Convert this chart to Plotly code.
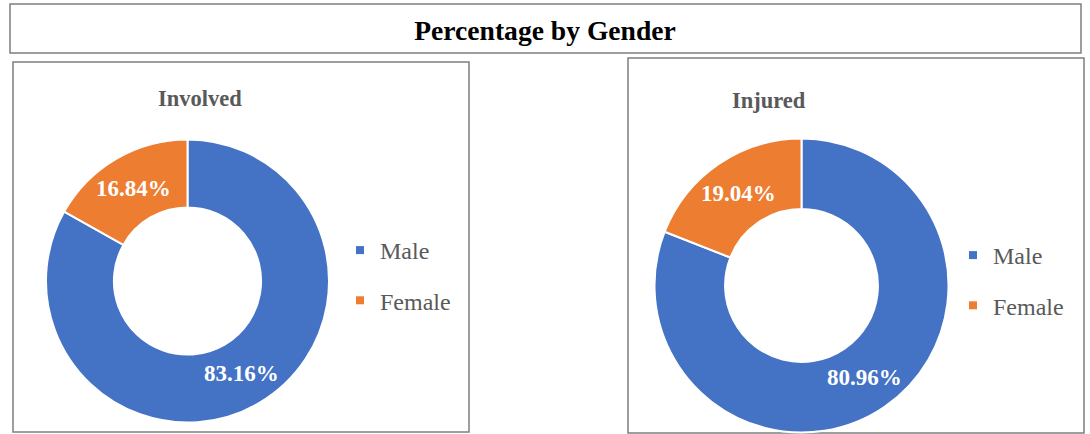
import math
import plotly.graph_objects as go

W, H = 1090, 434

categories = ["Male", "Female"]
involved_pct = [83.16, 16.84]
injured_pct = [80.96, 19.04]
colors = ["#4472C4", "#ED7D31"]
main_title = "Percentage by Gender"
panel_titles = ["Involved", "Injured"]

SERIF = "Liberation Serif, Times New Roman, serif"
GRAY = "#595959"
HOLE = 0.52


def px_x(v):
    return v / W


def px_y(v):
    return 1 - v / H


# donut placements in page pixels: (left, right, top, bottom)
donuts = [
    (involved_pct, (46, 329, 139.5, 422.5)),
    (injured_pct, (654.5, 948.5, 138.5, 432.5)),
]

fig = go.Figure()
annotations = []

for values, (l, r, t, b) in donuts:
    fig.add_trace(go.Pie(
        values=values, labels=categories, hole=HOLE, sort=False,
        direction="clockwise", rotation=0,
        marker=dict(colors=colors, line=dict(color="white", width=2)),
        textinfo="none", showlegend=False, hoverinfo="label+percent",
        domain=dict(x=[px_x(l), px_x(r)], y=[px_y(b), px_y(t)]),
    ))
    # data labels placed at the middle of each ring slice (derived from values)
    cx, cy = (l + r) / 2, (t + b) / 2
    rad = min(r - l, b - t) / 2
    rmid = rad * (1 + HOLE) / 2
    total = sum(values)
    cum = 0.0
    for v in values:
        mid = (cum + v / 2) / total * 2 * math.pi
        cum += v
        x = cx + rmid * math.sin(mid)
        y = cy - rmid * math.cos(mid)
        annotations.append(dict(
            text=f"{v / total * 100:.2f}%", x=px_x(x), y=px_y(y),
            xref="paper", yref="paper", showarrow=False,
            xanchor="center", yanchor="middle",
            font=dict(family=SERIF, size=23, color="white", weight="bold"),
        ))

# legend entries (one legend per panel)
for leg, suffix in (("legend", "a"), ("legend2", "b")):
    for cat, col in zip(categories, colors):
        fig.add_trace(go.Scatter(
            x=[None], y=[None], mode="markers", name=cat,
            marker=dict(symbol="square", size=8, color=col),
            legend=leg, legendgroup=cat + suffix, showlegend=True,
        ))

legend_common = dict(
    font=dict(family=SERIF, size=24, color=GRAY),
    bgcolor="rgba(0,0,0,0)",
    tracegroupgap=16,
    xanchor="left",
    yanchor="top",
    itemclick=False,
    itemdoubleclick=False,
)

box_line = dict(color="#7F7F7F", width=1.5)
shapes = [
    dict(type="rect", xref="paper", yref="paper",
         x0=px_x(10), x1=px_x(1081), y0=px_y(53), y1=px_y(4), line=box_line, layer="below"),
    dict(type="rect", xref="paper", yref="paper",
         x0=px_x(13), x1=px_x(469), y0=px_y(432), y1=px_y(62), line=box_line, layer="below"),
    dict(type="rect", xref="paper", yref="paper",
         x0=px_x(628), x1=px_x(1084), y0=px_y(433), y1=px_y(58), line=box_line, layer="below"),
]

annotations += [
    dict(text=panel_titles[0], x=px_x(200), y=px_y(99), xref="paper", yref="paper",
         showarrow=False, font=dict(family=SERIF, size=22.5, color=GRAY, weight="bold"),
         xanchor="center", yanchor="middle"),
    dict(text=panel_titles[1], x=px_x(769), y=px_y(100), xref="paper", yref="paper",
         showarrow=False, font=dict(family=SERIF, size=22.5, color=GRAY, weight="bold"),
         xanchor="center", yanchor="middle"),
]

fig.update_layout(
    width=W, height=H,
    margin=dict(l=0, r=0, t=0, b=0),
    paper_bgcolor="white",
    plot_bgcolor="white",
    title=dict(text=main_title, x=0.5, xanchor="center", y=px_y(30), yanchor="middle",
               xref="paper", yref="paper",
               font=dict(family=SERIF, size=27.6, color="black", weight="bold")),
    xaxis=dict(visible=False),
    yaxis=dict(visible=False),
    legend=dict(x=px_x(340), y=px_y(228), **legend_common),
    legend2=dict(x=px_x(953), y=px_y(233), **legend_common),
    shapes=shapes,
    annotations=annotations,
)

fig.write_html(
    "out.html",
    config={"displayModeBar": False},
    post_script="document.body.style.margin='0';document.body.style.overflow='hidden';",
)
